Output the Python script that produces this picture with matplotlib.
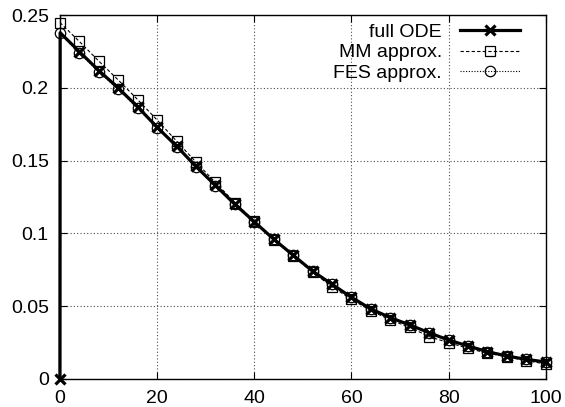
import matplotlib
matplotlib.use('Agg')
import matplotlib.pyplot as plt

plt.rcParams['font.family'] = ['Liberation Sans', 'DejaVu Sans']
plt.rcParams['font.size'] = 14

# sample times for the approximations (markers every 4 units)
t = [0, 4, 8, 12, 16, 20, 24, 28, 32, 36, 40, 44, 48, 52,
     56, 60, 64, 68, 72, 76, 80, 84, 88, 92, 96, 100]

# full ODE starts at 0 and jumps up almost at once
ode_t = [0, 0.05, 4, 8, 12, 16, 20, 24, 28, 32, 36, 40, 44, 48, 52,
         56, 60, 64, 68, 72, 76, 80, 84, 88, 92, 96, 100]
ode_y = [0.0, 0.238, 0.225, 0.212, 0.200, 0.187, 0.173, 0.160, 0.146, 0.133,
         0.120, 0.108, 0.096, 0.085, 0.074, 0.065, 0.056, 0.048, 0.042,
         0.037, 0.0316, 0.0266, 0.0225, 0.0186, 0.0156, 0.0133, 0.0115]

mm_y = [0.245, 0.232, 0.2185, 0.2055, 0.192, 0.178, 0.1635, 0.149, 0.135,
        0.1212, 0.1085, 0.0955, 0.0843, 0.0732, 0.0633, 0.0546, 0.0468,
        0.0404, 0.0354, 0.0289, 0.0248, 0.0209, 0.0175, 0.0151, 0.0124,
        0.0101]

fes_y = [0.2375, 0.224, 0.2112, 0.199, 0.186, 0.1725, 0.1595, 0.1458,
         0.1328, 0.1200, 0.1080, 0.0960, 0.0850, 0.0742, 0.0650, 0.0562,
         0.0482, 0.0420, 0.0368, 0.0315, 0.0265, 0.0224, 0.0186, 0.0156,
         0.0133, 0.0115]

fig = plt.figure(figsize=(5.65, 4.07), dpi=100)
ax = fig.add_axes([0.106, 0.0695, 0.860, 0.893])

ax.plot(ode_t, ode_y, color='black', lw=2.3, marker='x', ms=7, mew=2.3,
        markevery=[0] + list(range(2, len(ode_t))), label='full ODE',
        clip_on=False, zorder=4)
ax.plot(t, mm_y, color='black', lw=0.8, ls=(0, (3, 2)), marker='s', ms=7.5,
        mfc='none', mew=0.9, label='MM approx.', clip_on=False, zorder=5)
ax.plot(t, fes_y, color='black', lw=0.8, ls=(0, (1, 1.5)), marker='o', ms=7.5,
        mfc='none', mew=0.9, label='FES approx.', clip_on=False, zorder=6)

ax.set_xlim(0, 100)
ax.set_ylim(0, 0.25)
ax.set_xticks([0, 20, 40, 60, 80, 100])
ax.set_yticks([0, 0.05, 0.1, 0.15, 0.2, 0.25])
ax.set_yticklabels(['0', '0.05', '0.1', '0.15', '0.2', '0.25'])
ax.tick_params(direction='in', length=5, width=0.8, top=True, right=True)
ax.tick_params(axis='x', pad=8)
ax.tick_params(axis='y', pad=8)
ax.grid(True, color='0.3', ls=(0, (1, 2)), lw=0.8)
for s in ax.spines.values():
    s.set_linewidth(1.0)

ax.legend(loc='upper right', bbox_to_anchor=(0.9465, 0.977), frameon=False,
          markerfirst=False, handlelength=3.1, handletextpad=0.9,
          labelspacing=0.13, borderpad=0, borderaxespad=0)

fig.savefig('out.png', dpi=100)
